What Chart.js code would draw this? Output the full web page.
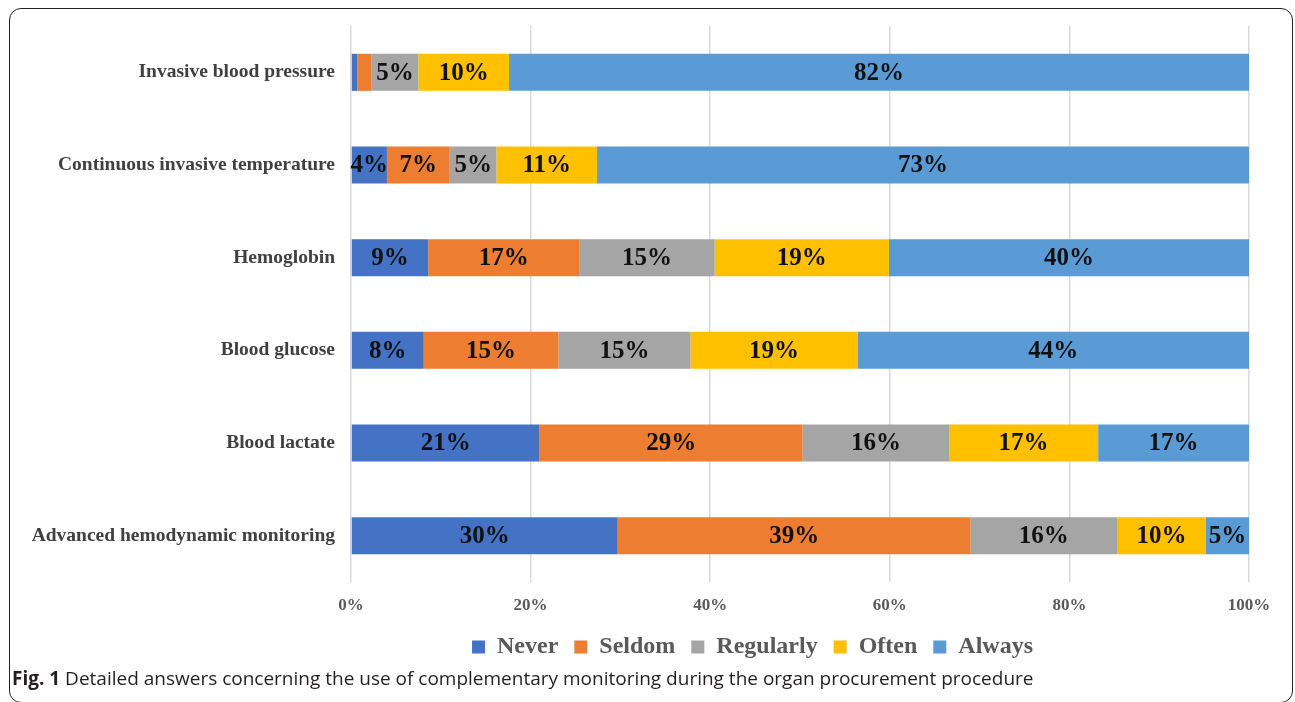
<!DOCTYPE html>
<html>
<head>
<meta charset="utf-8">
<script src="https://cdn.jsdelivr.net/npm/chart.js@4.4.0/dist/chart.umd.min.js"></script>
<style>
  html, body { margin: 0; padding: 0; background: #fff; width: 1295px; height: 702px; overflow: hidden; }
  #frame {
    position: absolute; left: 9px; top: 8px; width: 1284px; height: 695px;
    border: 1.5px solid #222; border-radius: 12px; box-sizing: border-box;
  }
  #chartBox { position: absolute; left: 10px; top: 10px; width: 1275px; height: 665px; }
  #caption {
    position: absolute; left: 12px; top: 665px;
    font-family: 'Open Sans', sans-serif; font-size: 19px; color: #231f20; white-space: nowrap;
  }
  #caption b { font-weight: 700; }
</style>
</head>
<body>
<div id="frame"></div>
<div id="chartBox"><canvas id="monitoringChart" width="1275" height="665"></canvas></div>
<div id="caption"><b>Fig. 1</b> Detailed answers concerning the use of complementary monitoring during the organ procurement procedure</div>

<script>
// Categories (top to bottom)
const categories = [
  'Invasive blood pressure',
  'Continuous invasive temperature',
  'Hemoglobin',
  'Blood glucose',
  'Blood lactate',
  'Advanced hemodynamic monitoring'
];

// Answer shares in percent
const never     = [0.7, 4.0, 8.6, 8.1, 21.0, 29.7];
const seldom    = [1.6, 7.0, 16.8, 15.0, 29.3, 39.3];
const regularly = [5.2, 5.2, 15.1, 14.7, 16.3, 16.3];
const often     = [10.1, 11.2, 19.4, 18.6, 16.6, 9.9];
const always    = [82.4, 72.6, 40.1, 43.6, 16.8, 4.8];

const xTicks = [0, 20, 40, 60, 80, 100];

const serif = "'Liberation Serif', 'Times New Roman', serif";

// Draws the rounded percent label in the middle of each segment
const segmentLabels = {
  id: 'segmentLabels',
  afterDatasetsDraw(chart) {
    const ctx = chart.ctx;
    ctx.save();
    ctx.font = 'bold 25px ' + serif;
    ctx.fillStyle = '#111';
    ctx.textAlign = 'center';
    ctx.textBaseline = 'middle';
    chart.data.datasets.forEach((ds, di) => {
      const meta = chart.getDatasetMeta(di);
      meta.data.forEach((bar, i) => {
        if (ds.data[i] < 3) return; // too thin to label
        const p = bar.getProps(['x', 'y', 'base'], true);
        ctx.fillText(Math.round(ds.data[i]) + '%', (p.x + p.base) / 2, p.y + 1);
      });
    });
    ctx.restore();
  }
};

// The legend in the figure sits right of the canvas centre
const shiftLegend = {
  id: 'shiftLegend',
  afterLayout(chart) {
    const lg = chart.legend;
    lg.left += 123;
    lg.right += 123;
  }
};

const ctx = document.getElementById('monitoringChart').getContext('2d');
new Chart(ctx, {
  type: 'bar',
  data: {
    labels: categories,
    datasets: [
      { label: 'Never', data: never, backgroundColor: '#4472C4' },
      { label: 'Seldom', data: seldom, backgroundColor: '#ED7D31' },
      { label: 'Regularly', data: regularly, backgroundColor: '#A5A5A5' },
      { label: 'Often', data: often, backgroundColor: '#FFC000' },
      { label: 'Always', data: always, backgroundColor: '#5B9BD5' }
    ]
  },
  options: {
    indexAxis: 'y',
    responsive: false,
    animation: false,
    datasets: {
      bar: { barPercentage: 0.4, categoryPercentage: 1, borderWidth: 0 }
    },
    layout: { padding: { top: 16, right: 36, left: 0, bottom: 6 } },
    plugins: {
      tooltip: { enabled: false },
      legend: {
        position: 'bottom',
        labels: {
          boxWidth: 13,
          boxHeight: 13,
          padding: 16,
          color: '#595959',
          font: { family: serif, size: 24, weight: 'bold' }
        }
      }
    },
    scales: {
      x: {
        stacked: true,
        min: 0,
        max: 100,
        afterBuildTicks: (scale) => { scale.ticks = xTicks.map(v => ({ value: v })); },
        afterFit: (scale) => { scale.height = 37; },
        grid: { color: '#d9d9d9', lineWidth: 1.5, drawTicks: false },
        border: { display: false },
        ticks: {
          padding: 13,
          color: '#595959',
          font: { family: serif, size: 17, weight: 'bold' },
          callback: (v) => v + '%'
        }
      },
      y: {
        stacked: true,
        afterFit: (scale) => {
          scale.width = 341;
          scale.paddingTop = 0;
          scale.paddingBottom = 0;
        },
        grid: { display: false, drawTicks: false },
        border: { display: false },
        ticks: {
          padding: 16,
          color: '#404040',
          font: { family: serif, size: 19.5, weight: 'bold' }
        }
      }
    }
  },
  plugins: [segmentLabels, shiftLegend]
});
</script>
</body>
</html>
